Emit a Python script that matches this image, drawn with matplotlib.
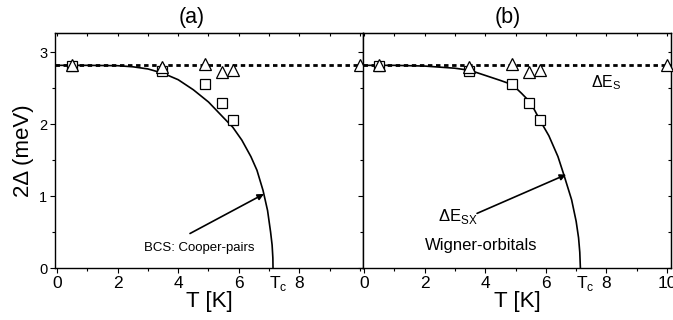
import numpy as np
import matplotlib
matplotlib.use("Agg")
import matplotlib.pyplot as plt
from matplotlib.ticker import MultipleLocator

plt.rcParams["font.family"] = ["Liberation Sans", "DejaVu Sans"]
plt.rcParams["mathtext.fontset"] = "custom"
plt.rcParams["mathtext.rm"] = "Liberation Sans"

# measured gap points, 2Delta (meV) vs T (K)
T_sq = [0.5, 3.47, 4.88, 5.45, 5.8]
gap_sq = [2.81, 2.74, 2.56, 2.29, 2.06]
T_tri = [0.5, 3.47, 4.88, 5.45, 5.8, 10.0]
gap_tri = [2.83, 2.80, 2.84, 2.73, 2.76, 2.83]

gap_s = 2.82   # Delta E_S level
Tc = 7.13

# BCS curve (panel a)
T_bcs = [0.0, 1.0, 2.0, 2.5, 3.0, 3.5, 4.0, 4.5, 5.0, 5.5, 5.8, 6.1, 6.4,
         6.6, 6.8, 6.95, 7.05, 7.1, 7.125, 7.13]
gap_bcs = [2.82, 2.82, 2.815, 2.80, 2.77, 2.71, 2.62, 2.48, 2.31, 2.09, 1.96,
           1.78, 1.55, 1.36, 1.08, 0.80, 0.50, 0.32, 0.14, 0.0]

# Wigner-orbital curve (panel b)
T_wig = [0.0, 0.5, 1.0, 2.0, 3.0, 3.5, 4.0, 4.5, 4.9, 5.2, 5.5, 5.8, 6.1,
         6.4, 6.6, 6.85, 7.0, 7.08, 7.12, 7.14]
gap_wig = [2.82, 2.82, 2.82, 2.81, 2.78, 2.75, 2.68, 2.61, 2.55, 2.43, 2.30,
           2.06, 1.84, 1.55, 1.29, 0.95, 0.65, 0.42, 0.22, 0.0]

xticks_a = [0, 2, 4, 6, 8]
xticks_b = [0, 2, 4, 6, 8, 10]

fig = plt.figure(figsize=(6.73, 3.2), dpi=100)
ax_a = fig.add_axes([55 / 673, 52 / 320, 308 / 673, 235 / 320])
ax_b = fig.add_axes([363 / 673, 52 / 320, 308 / 673, 235 / 320])

mk = dict(mfc="white", mec="black", mew=0.9, ls="none")

for ax, (Tc_x, Tc_y), xt in [(ax_a, (T_bcs, gap_bcs), xticks_a),
                             (ax_b, (T_wig, gap_wig), xticks_b)]:
    ax.axhline(gap_s, color="black", lw=2.0, ls=(0, (1.6, 1.3)), zorder=1)
    ax.plot(Tc_x, Tc_y, color="black", lw=1.2, zorder=2)
    ax.plot(T_sq, gap_sq, marker="s", ms=6.5, zorder=3, **mk)
    ax.plot(T_tri, gap_tri, marker="^", ms=8, zorder=4, clip_on=False, **mk)

    ax.set_ylim(0, 3.27)
    ax.xaxis.set_minor_locator(MultipleLocator(1))
    ax.yaxis.set_minor_locator(MultipleLocator(0.5))
    ax.set_xticks(xt)
    ax.set_yticks([0, 1, 2, 3])
    ax.tick_params(axis="x", which="both", direction="out", labelsize=12.5, pad=2)
    ax.tick_params(axis="y", which="both", direction="out", labelsize=10.5, pad=2)
    ax.tick_params(which="major", length=3.5, width=0.8)
    ax.tick_params(which="minor", length=2.5, width=0.8)
    ax.set_xlabel("T [K]", fontsize=16, labelpad=0)
    for s in ax.spines.values():
        s.set_linewidth(1.0)

    sec_x = ax.secondary_xaxis("top")
    sec_x.set_xticks(range(0, 11))
    sec_x.tick_params(direction="in", length=2.5, width=0.8, labeltop=False)

    ax.annotate("T$_\\mathrm{c}$", xy=(Tc, 0), xycoords=("data", "axes fraction"),
                xytext=(-3, -4), textcoords="offset points",
                ha="left", va="top", fontsize=12.5)

ax_a.set_xlim(-0.066, 10.1)
ax_b.set_xlim(-0.033, 10.13)

ax_a.set_ylabel("2Δ (meV)", fontsize=16, labelpad=4)
ax_b.tick_params(axis="y", labelleft=False)
sec_y = ax_b.secondary_yaxis("right")
sec_y.set_yticks([0, 0.5, 1, 1.5, 2, 2.5, 3])
sec_y.tick_params(direction="in", length=2.5, width=0.8, labelright=False)

ax_a.text(0.445, 1.065, "(a)", transform=ax_a.transAxes, ha="center",
          va="center", fontsize=15.5)
ax_b.text(0.47, 1.065, "(b)", transform=ax_b.transAxes, ha="center",
          va="center", fontsize=15.5)

# panel (a) annotation
ax_a.annotate("", xy=(6.83, 1.03), xytext=(4.39, 0.48),
              arrowprops=dict(arrowstyle="-|>", color="black", lw=1.2,
                              mutation_scale=9, shrinkA=0, shrinkB=0))
ax_a.text(4.69, 0.28, "BCS: Cooper-pairs", ha="center", va="center",
          fontsize=9.5)

# panel (b) annotations
ax_b.annotate("", xy=(6.67, 1.3), xytext=(3.73, 0.76),
              arrowprops=dict(arrowstyle="-|>", color="black", lw=1.2,
                              mutation_scale=9, shrinkA=0, shrinkB=0))
ax_b.text(3.1, 0.72, "ΔE$_\\mathrm{SX}$", ha="center", va="center", fontsize=12)
ax_b.text(3.86, 0.32, "Wigner-orbitals", ha="center", va="center", fontsize=12)
ax_b.text(8.0, 2.58, "ΔE$_\\mathrm{S}$", ha="center", va="center", fontsize=11.5)

fig.savefig("out.png", dpi=100)
plt.close(fig)
